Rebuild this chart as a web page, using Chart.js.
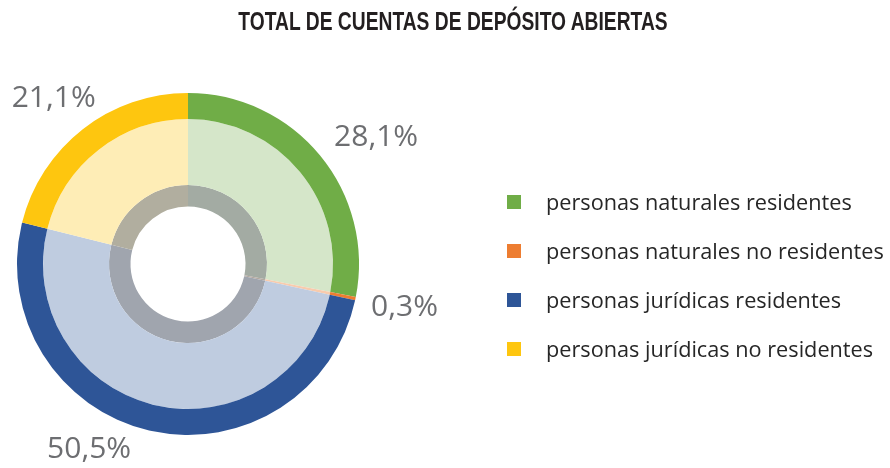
<!DOCTYPE html>
<html>
<head>
<meta charset="utf-8">
<script src="https://cdn.jsdelivr.net/npm/chart.js@4/dist/chart.umd.min.js"></script>
<style>
  html, body { margin: 0; padding: 0; background: #fff; }
  #wrap { position: relative; width: 890px; height: 468px; overflow: hidden; }
  #chart { position: absolute; left: 0; top: 0; }
  #title {
    position: absolute; left: 0; top: 9px; width: 906px; text-align: center;
    font: bold 25px/25px "Liberation Sans", Arial, sans-serif;
    color: #231f20; white-space: nowrap;
    transform: scaleX(0.77); transform-origin: 453px 0;
  }
  #legend { position: absolute; left: 507px; top: 177px; }
  .row { display: flex; align-items: center; height: 49px; }
  .sw { width: 14px; height: 14px; margin-right: 25px; }
  .lbl { font: 21.7px "Open Sans", sans-serif; color: #262626; white-space: nowrap; }
</style>
</head>
<body>
<div id="wrap">
  <canvas id="chart" width="890" height="468"></canvas>
  <div id="title">TOTAL DE CUENTAS DE DEPÓSITO ABIERTAS</div>
  <div id="legend"></div>
</div>
<script>
// data (% of accounts)
const categories = ['personas naturales residentes', 'personas naturales no residentes',
  'personas jurídicas residentes', 'personas jurídicas no residentes'];
const shares = [28.1, 0.3, 50.5, 21.1];

const solidColors = ['#70ad47', '#ed7d31', '#2e5597', '#fec60f'];
const lightColors = ['#d5e6c9', '#f8cbad', '#bfcce0', '#feedb6'];
const greyColors = ['#a3aba3', '#b3a89f', '#a0a5ae', '#b1ae9f'];

// nudges for the percentage labels (Excel "best fit" placement)
const labelNudge = [[22, 10], [6, 0], [-50, -24], [-2, 4]];

const pctLabels = {
  id: 'pctLabels',
  afterDatasetsDraw(chart) {
    const ctx = chart.ctx;
    const meta = chart.getDatasetMeta(0);
    ctx.save();
    ctx.font = '30px "Open Sans", sans-serif';
    ctx.fillStyle = '#6d6e71';
    ctx.textAlign = 'center';
    ctx.textBaseline = 'middle';
    meta.data.forEach((arc, i) => {
      const p = arc.getProps(['x', 'y', 'startAngle', 'endAngle', 'outerRadius'], true);
      const mid = (p.startAngle + p.endAngle) / 2;
      const r = p.outerRadius + 44;
      const tx = p.x + Math.cos(mid) * r + labelNudge[i][0];
      const ty = p.y + Math.sin(mid) * r + labelNudge[i][1];
      ctx.fillText(shares[i].toFixed(1).replace('.', ',') + '%', tx, ty);
    });
    ctx.restore();
  }
};

const ctx = document.getElementById('chart').getContext('2d');
const depositChart = new Chart(ctx, {
  type: 'doughnut',
  data: {
    labels: categories,
    datasets: [
      { data: shares, backgroundColor: solidColors, weight: 26 },
      { data: shares, backgroundColor: lightColors, weight: 66 },
      { data: shares, backgroundColor: greyColors, weight: 21.5 }
    ]
  },
  options: {
    responsive: false,
    animation: false,
    cutout: 57.5,
    borderWidth: 0,
    hoverOffset: 0,
    layout: { padding: { left: 17, right: 531, top: 93, bottom: 33 } },
    plugins: { legend: { display: false }, tooltip: { enabled: false } },
    elements: { arc: { borderWidth: 0 } }
  },
  plugins: [pctLabels]
});

// legend on the right
const legendEl = document.getElementById('legend');
categories.forEach((c, i) => {
  const row = document.createElement('div');
  row.className = 'row';
  row.innerHTML = '<div class="sw" style="background:' + solidColors[i] + '"></div><div class="lbl">' + c + '</div>';
  legendEl.appendChild(row);
});
</script>
</body>
</html>
